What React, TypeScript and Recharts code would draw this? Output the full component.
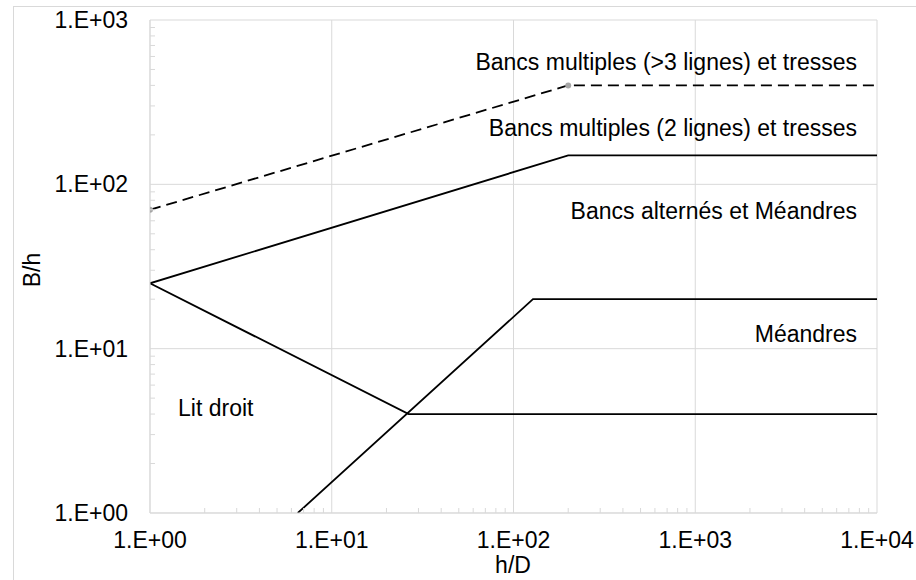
import React from 'react';
import { LineChart, Line, XAxis, YAxis, ReferenceLine } from 'recharts';

// regime boundaries, h/D on x, B/h on y
const tressesMultiples = [
  { x: 1, y: 70 },
  { x: 200, y: 400 },
  { x: 10000, y: 400 },
];
const tresses2Lignes = [
  { x: 1, y: 25 },
  { x: 200, y: 150 },
  { x: 10000, y: 150 },
];
const litDroitHaut = [
  { x: 1, y: 25 },
  { x: 26.5, y: 4 },
  { x: 10000, y: 4 },
];
const meandresBas = [
  { x: 6.5, y: 1 },
  { x: 128, y: 20 },
  { x: 10000, y: 20 },
];

const xMajor = [1, 10, 100, 1000, 10000];
const yMajor = [1, 10, 100, 1000];
const minorSteps = [2, 3, 4, 5, 6, 7, 8, 9];
const xMinor = [1, 10, 100, 1000].flatMap((d) => minorSteps.map((k) => k * d));
const yMinor = [1, 10, 100].flatMap((d) => minorSteps.map((k) => k * d));
const xTicks = [...xMajor, ...xMinor].sort((a, b) => a - b);
const yTicks = [...yMajor, ...yMinor].sort((a, b) => a - b);

const FONT = '"Liberation Sans", Arial, sans-serif';
const FS = 23;
const GRID = '#d9d9d9';
const X_MARGIN = 27;
const Y_MARGIN = 22;

const isMajor = (v: number) => Math.abs(Math.log10(v) - Math.round(Math.log10(v))) < 1e-9;

const fmt = (v: number) => {
  const e = Math.round(Math.log10(v));
  return `1.E+${String(e).padStart(2, '0')}`;
};

const XTick = (props: any) => {
  const { x, y, payload } = props;
  if (!isMajor(payload.value)) {
    const y0 = y - X_MARGIN;
    return <line x1={x} x2={x} y1={y0} y2={y0 - 5} stroke={GRID} strokeWidth={1} />;
  }
  return (
    <text x={x} y={y} textAnchor="middle" dominantBaseline="central" fontFamily={FONT} fontSize={FS} fill="#000">
      {fmt(payload.value)}
    </text>
  );
};

const YTick = (props: any) => {
  const { x, y, payload } = props;
  if (!isMajor(payload.value)) {
    const x0 = x + Y_MARGIN;
    return <line x1={x0} x2={x0 + 5} y1={y} y2={y} stroke={GRID} strokeWidth={1} />;
  }
  return (
    <text x={x} y={y} textAnchor="end" dominantBaseline="central" fontFamily={FONT} fontSize={FS} fill="#000">
      {fmt(payload.value)}
    </text>
  );
};

const grayDot = (props: any) => {
  const { cx, cy, index } = props;
  if (index > 1) return <g key={`d${index}`} />;
  return <circle key={`d${index}`} cx={cx} cy={cy} r={3} fill="#a6a6a6" stroke="none" />;
};

const labels = [
  { text: 'Bancs multiples (>3 lignes) et tresses', x: 857, y: 62, anchor: 'end' },
  { text: 'Bancs multiples (2 lignes) et tresses', x: 857, y: 128, anchor: 'end' },
  { text: 'Bancs alternés et Méandres', x: 857, y: 211, anchor: 'end' },
  { text: 'Méandres', x: 857, y: 334, anchor: 'end' },
  { text: 'Lit droit', x: 178, y: 408, anchor: 'start' },
];

export default function App() {
  return (
    <div
      style={{
        position: 'absolute',
        top: 0,
        left: 0,
        width: 916,
        height: 580,
        overflow: 'hidden',
        background: '#fff',
      }}
    >
      <div
        style={{
          position: 'absolute',
          left: 13,
          top: 6,
          width: 1000,
          height: 1000,
          borderLeft: `1px solid ${GRID}`,
          borderTop: `1px solid ${GRID}`,
        }}
      />
      <div style={{ position: 'absolute', left: 0, top: 0 }}>
        <LineChart width={916} height={580} margin={{ top: 20, right: 39, bottom: 27, left: 0 }}>
          {xMajor.map((v) => (
            <ReferenceLine key={`gx${v}`} x={v} stroke={GRID} strokeWidth={1} ifOverflow="extendDomain" />
          ))}
          {yMajor.map((v) => (
            <ReferenceLine key={`gy${v}`} y={v} stroke={GRID} strokeWidth={1} ifOverflow="extendDomain" />
          ))}
          <XAxis
            dataKey="x"
            type="number"
            scale="log"
            domain={[1, 10000]}
            ticks={xTicks}
            interval={0}
            allowDataOverflow
            height={40}
            tickSize={0}
            tickMargin={X_MARGIN}
            tick={<XTick />}
            axisLine={{ stroke: GRID }}
            tickLine={false}
          />
          <YAxis
            type="number"
            scale="log"
            domain={[1, 1000]}
            ticks={yTicks}
            interval={0}
            allowDataOverflow
            width={150}
            tickSize={0}
            tickMargin={Y_MARGIN}
            tick={<YTick />}
            axisLine={{ stroke: GRID }}
            tickLine={false}
          />
          <Line
            data={tressesMultiples}
            dataKey="y"
            type="linear"
            stroke="#000"
            strokeWidth={1.8}
            strokeDasharray="11 6"
            dot={grayDot}
            activeDot={false}
            isAnimationActive={false}
          />
          <Line
            data={tresses2Lignes}
            dataKey="y"
            type="linear"
            stroke="#000"
            strokeWidth={1.8}
            dot={false}
            activeDot={false}
            isAnimationActive={false}
          />
          <Line
            data={litDroitHaut}
            dataKey="y"
            type="linear"
            stroke="#000"
            strokeWidth={1.8}
            dot={false}
            activeDot={false}
            isAnimationActive={false}
          />
          <Line
            data={meandresBas}
            dataKey="y"
            type="linear"
            stroke="#000"
            strokeWidth={1.8}
            dot={false}
            activeDot={false}
            isAnimationActive={false}
          />
        </LineChart>
      </div>
      <svg
        width={916}
        height={580}
        style={{ position: 'absolute', left: 0, top: 0, pointerEvents: 'none' }}
      >
        {labels.map((l) => (
          <text
            key={l.text}
            x={l.x}
            y={l.y}
            textAnchor={l.anchor as any}
            dominantBaseline="central"
            fontFamily={FONT}
            fontSize={FS}
            fill="#000"
          >
            {l.text}
          </text>
        ))}
        <text x={513} y={565} textAnchor="middle" dominantBaseline="central" fontFamily={FONT} fontSize={FS} fill="#000">
          h/D
        </text>
        <text
          x={32}
          y={270}
          textAnchor="middle"
          dominantBaseline="central"
          fontFamily={FONT}
          fontSize={FS}
          fill="#000"
          transform="rotate(-90 32 270)"
        >
          B/h
        </text>
      </svg>
    </div>
  );
}
